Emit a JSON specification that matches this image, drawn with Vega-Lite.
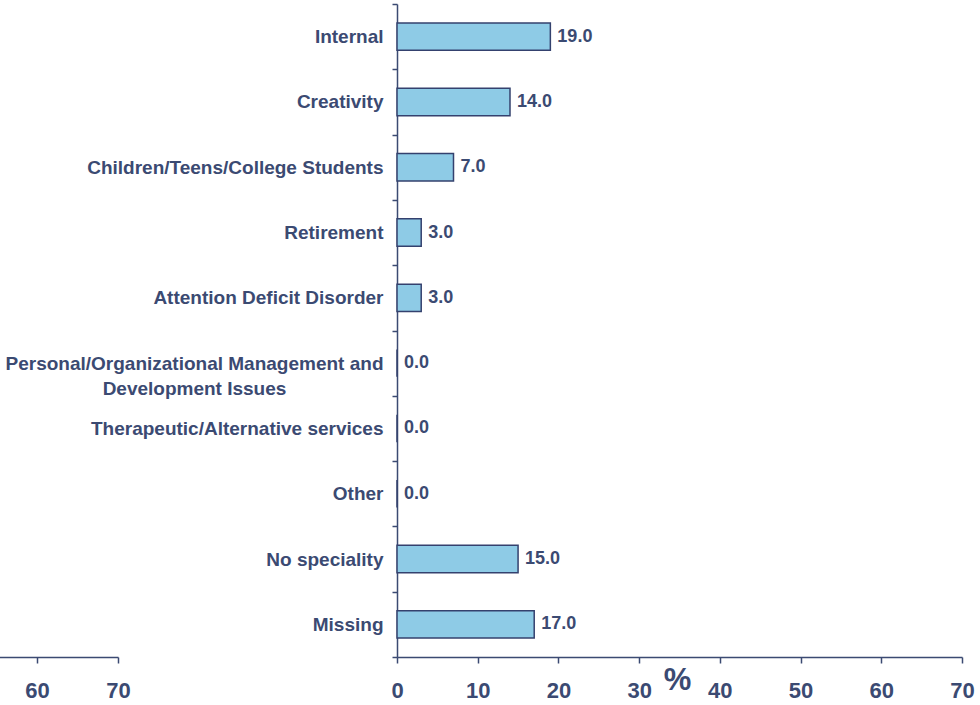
{
  "$schema": "https://vega.github.io/schema/vega-lite/v6.json",
  "width": 565,
  "height": 653,
  "autosize": {"type": "none"},
  "padding": {"left": 397, "top": 4, "right": 18, "bottom": 48},
  "background": "white",
  "config": {
    "view": {"stroke": null},
    "font": "Liberation Sans"
  },
  "data": {
    "values": [
      {"category": "Internal", "pct": 19.0},
      {"category": "Creativity", "pct": 14.0},
      {"category": "Children/Teens/College Students", "pct": 7.0},
      {"category": "Retirement", "pct": 3.0},
      {"category": "Attention Deficit Disorder", "pct": 3.0},
      {"category": "Personal/Organizational Management and Development Issues", "pct": 0.0},
      {"category": "Therapeutic/Alternative services", "pct": 0.0},
      {"category": "Other", "pct": 0.0},
      {"category": "No speciality", "pct": 15.0},
      {"category": "Missing", "pct": 17.0}
    ]
  },
  "encoding": {
    "y": {
      "field": "category",
      "type": "nominal",
      "sort": null,
      "scale": {"paddingInner": 0, "paddingOuter": 0},
      "axis": {
        "title": null,
        "orient": "left",
        "tickBand": "extent",
        "domainColor": "#3b4a72",
        "domainWidth": 1.5,
        "tickColor": "#3b4a72",
        "tickWidth": 1.5,
        "tickSize": 5,
        "labelFont": "Liberation Sans",
        "labelFontWeight": "bold",
        "labelFontSize": 19,
        "labelColor": "#3b4a72",
        "labelLimit": 500,
        "labelLineHeight": 25,
        "labelPadding": {"condition": {"test": "datum.value == 'Personal/Organizational Management and Development Issues'", "value": 198}, "value": 9},
        "labelAlign": {"condition": {"test": "datum.value == 'Personal/Organizational Management and Development Issues'", "value": "center"}, "value": "right"},
        "labelExpr": "datum.value == 'Personal/Organizational Management and Development Issues' ? ['Personal/Organizational Management and', 'Development Issues'] : datum.label"
      }
    }
  },
  "layer": [
    {
      "layer": [
        {
          "mark": {"type": "bar", "height": {"band": 0.42}, "fill": "#8ecbe6", "stroke": "#34416e", "strokeWidth": 1.5},
          "encoding": {
            "x": {
              "field": "pct",
              "type": "quantitative",
              "scale": {"domain": [0, 70], "nice": false},
              "axis": {
                "orient": "bottom",
                "values": [0, 10, 20, 30, 40, 50, 60, 70],
                "grid": false,
                "title": "%",
                "titleFont": "Liberation Sans",
                "titleFontWeight": "bold",
                "titleFontSize": 31,
                "titleColor": "#3b4a72",
                "titleX": 280,
                "titleY": 23,
                "titleBaseline": "middle",
                "titleAlign": "center",
                "domainColor": "#3b4a72",
                "domainWidth": 1.5,
                "tickColor": "#3b4a72",
                "tickWidth": 1.5,
                "tickSize": 6,
                "labelFont": "Liberation Sans",
                "labelFontWeight": "bold",
                "labelFontSize": 22,
                "labelColor": "#3b4a72",
                "labelPadding": 17,
                "labelFlush": false,
                "labelOverlap": false
              }
            }
          }
        },
        {
          "mark": {"type": "text", "align": "left", "baseline": "middle", "dx": 7, "font": "Liberation Sans", "fontWeight": "bold", "fontSize": 18, "color": "#3b4a72"},
          "encoding": {
            "x": {"field": "pct", "type": "quantitative"},
            "text": {"field": "pct", "type": "quantitative", "format": ".1f"}
          }
        }
      ]
    },
    {
      "mark": {"type": "point", "opacity": 0},
      "encoding": {
        "x": {
          "field": "pct",
          "type": "quantitative",
          "scale": {"domain": [55, 70], "range": [-400.5, -279], "nice": false, "zero": false},
          "axis": {
            "orient": "bottom",
            "values": [60, 70],
            "grid": false,
            "title": null,
            "domainColor": "#3b4a72",
            "domainWidth": 1.5,
            "tickColor": "#3b4a72",
            "tickWidth": 1.5,
            "tickSize": 6,
            "labelFont": "Liberation Sans",
            "labelFontWeight": "bold",
            "labelFontSize": 22,
            "labelColor": "#3b4a72",
            "labelPadding": 17,
            "labelFlush": false,
            "labelOverlap": false
          }
        }
      }
    }
  ],
  "resolve": {"scale": {"x": "independent"}, "axis": {"x": "independent"}}
}
